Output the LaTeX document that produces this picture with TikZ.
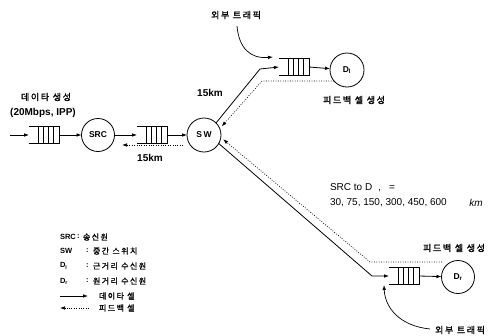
\documentclass[tikz,border=0pt]{standalone}
\usepackage{fontspec}
\setmainfont{Liberation Sans}
\newfontfamily\kr[LetterSpace=18,FakeBold=1.2]{Noto Sans CJK KR}
\usetikzlibrary{arrows.meta,calc}
\newcommand\qbox[1]{%
  \draw[line width=0.8pt] (#1.north west) -- (#1.north east) -- (#1.south east) -- (#1.south west);
  \foreach \f in {0.3,0.475,0.65,0.825}
    \draw[line width=0.7pt] ($(#1.north west)!\f!(#1.north east)$) -- ($(#1.south west)!\f!(#1.south east)$);}
\begin{document}
\begin{tikzpicture}[x=1pt,y=-1pt,
  every node/.style={inner sep=0pt,outer sep=0pt},
  circ/.style={circle,draw,line width=0.8pt,minimum size=33pt,font=\bfseries\fontsize{8.5}{10}\selectfont},
  queue/.style={minimum width=30pt,minimum height=17pt},
  txt/.style={font=\fontsize{10}{12}\selectfont},
  btxt/.style={font=\bfseries\fontsize{10}{12}\selectfont},
  krtxt/.style={font=\kr\fontsize{9}{11}\selectfont},
  legtxt/.style={font=\bfseries\fontsize{7.5}{9}\selectfont,anchor=west},
  legkr/.style={font=\kr\fontsize{8}{10}\selectfont,anchor=west},
  arr/.style={-{Latex[length=5pt,width=3.6pt]},line width=0.8pt},
  fb/.style={-{Latex[length=5pt,width=3.6pt]},line width=0.7pt,dash pattern=on 0.8pt off 1.6pt}]
\useasboundingbox (0,0) rectangle (495,335);

% nodes
\node[queue] (q1) at (44,135) {};
\node[circ] (src) at (98,135) {SRC};
\node[queue] (q2) at (152,135) {};
\node[circ,minimum size=34pt] (sw) at (204,135) {S\,W};
\node[queue] (q3) at (294,67) {};
\node[circ,minimum size=34pt] (dl) at (347,70) {D\textsubscript{l}};
\node[queue] (q4) at (404,276) {};
\node[circ] (dr) at (458,277) {D\textsubscript{r}};
\qbox{q1}\qbox{q2}\qbox{q3}\qbox{q4}

\coordinate (in) at (10,135);
\coordinate (ub) at (260,69);
\coordinate (lb) at (372,276);
\coordinate (ufb) at (262,81);
\coordinate (lfs) at (442,262);
\coordinate (lfb) at (370,262);
\coordinate (f1s) at (183,145);
\coordinate (f1e) at (122,145);

% data path
\draw[arr] (in) -- (q1.west);
\draw[arr] (q1.east) -- (src);
\draw[arr] (src) -- (q2.west);
\draw[arr] (q2.east) -- (sw);
\draw[arr] (sw.45) -- (ub) -- (q3.west);
\draw[arr] (q3.east) -- (dl);
\draw[arr] (sw.-30) -- (lb) -- (q4.west);
\draw[arr] (q4.east) -- (dr);

% feedback
\draw[fb] (f1s) -- (f1e);
\draw[fb,shorten >=3pt] (dl.220) -- (ufb) -- (sw.22);
\draw[fb,shorten >=3pt] (lfs) -- (lfb) -- (sw.-8);

% labels
\node[krtxt] (gen1) at (46,97) {데이타 생성};
\node[btxt] (gen2) at (43,113) {(20Mbps, IPP)};
\node[btxt] (km1) at (210,93) {15km};
\node[btxt] (km2) at (150,158) {15km};
\node[krtxt] (ext1) at (236,15) {외부 트래픽};
\node[krtxt] (ext2) at (460,330) {외부 트래픽};
\node[krtxt] (fbl1) at (354,100) {피드백 셀 생성};
\node[krtxt] (fbl2) at (454,248) {피드백 셀 생성};
\node[txt,anchor=west] (sd) at (330,188) {SRC to D\hspace{6pt},\hspace{8pt}=};
\node[txt,anchor=west] (dist) at (330,203) {30, 75, 150, 300, 450, 600};
\node[txt] (km3) at (476,203) {\itshape km};

% external traffic
\coordinate (e1t) at (273,57);
\coordinate (e2t) at (384,285);
\draw[arr,line width=0.7pt] (237,26) .. controls (239,48) and (250,59) .. (e1t);
\draw[arr,line width=0.7pt] (ext2.west) ++(-5,-1) .. controls (400,326) and (385,308) .. (e2t);

% legend
\node[legtxt] (l1) at (60,237) {SRC};
\node[legtxt] (l1c) at (77,237) {:};
\node[legkr] (l1k) at (83,237) {송신원};
\node[legtxt] (l2) at (60,251) {SW};
\node[legtxt] (l2c) at (86,251) {:};
\node[legkr] (l2k) at (93,251) {중간 스위치};
\node[legtxt] (l3) at (60,266) {D\textsubscript{l}};
\node[legtxt] (l3c) at (86,266) {:};
\node[legkr] (l3k) at (93,266) {근거리 수신원};
\node[legtxt] (l4) at (60,281) {D\textsubscript{r}};
\node[legtxt] (l4c) at (86,281) {:};
\node[legkr] (l4k) at (93,281) {원거리 수신원};
\coordinate (la1) at (60,296);
\coordinate (la2) at (88,296);
\draw[arr] (la1) -- (la2);
\node[legkr] (l5k) at (99,296) {데이타 셀};
\coordinate (lb1) at (89,308);
\coordinate (lb2) at (60,308);
\draw[fb] (lb1) -- (lb2);
\node[legkr] (l6k) at (99,308) {피드백 셀};
\end{tikzpicture}
\end{document}
